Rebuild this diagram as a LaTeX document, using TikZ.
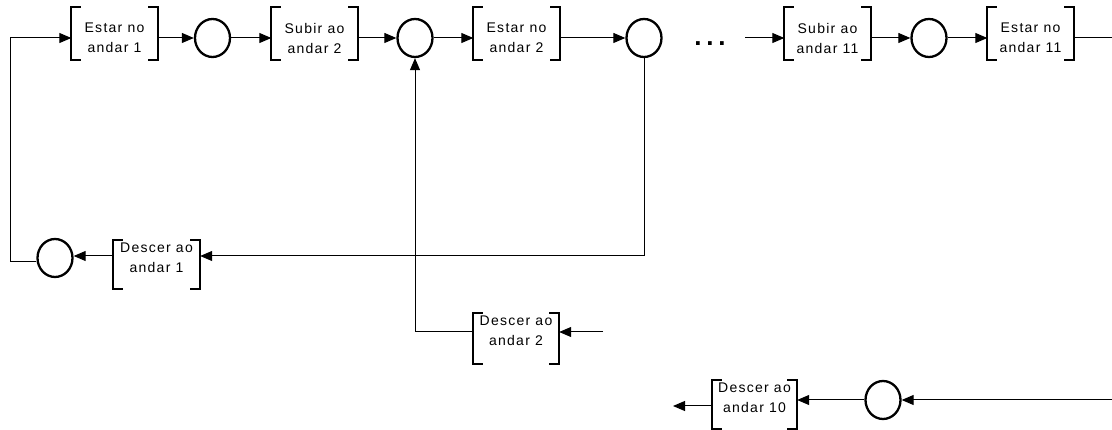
\documentclass[tikz,border=0pt]{standalone}
\usepackage{fontspec}
\setmainfont{Liberation Sans}[LetterSpace=9]
\usetikzlibrary{arrows.meta,shapes.geometric}
\begin{document}
\begin{tikzpicture}[x=1pt,y=-1pt,
  brk/.style={inner sep=0pt, minimum width=86pt, minimum height=52pt},
  lbl/.style={inner sep=0pt, align=center, font=\fontsize{14}{20}\selectfont},
  st/.style={ellipse, draw, line width=2.3pt, minimum width=35pt, minimum height=38pt, inner sep=0pt},
  bline/.style={line width=2.3pt, line cap=rect},
  arr/.style={line width=1pt, -{Triangle[length=12pt,width=10pt]}},
  ln/.style={line width=1pt}]
\useasboundingbox (0,0) rectangle (1112,430);
\newcommand\brackets[2]{%
  \draw[bline] ([xshift=#2]#1.north west) -- (#1.north west) -- (#1.south west) -- ([xshift=#2]#1.south west);
  \draw[bline] ([xshift=-#2]#1.north east) -- (#1.north east) -- (#1.south east) -- ([xshift=-#2]#1.south east);}
% top row
\node[brk] (b1) at (114.5,33.5) {};
\node[lbl] (t1) at (114.5,38) {Estar no\\andar 1};
\node[st] (c1) at (212.5,38) {};
\node[brk] (b2) at (314.5,33.5) {};
\node[lbl] (t2) at (314.5,38) {Subir ao\\andar 2};
\node[st] (c2) at (415,38) {};
\node[brk] (b3) at (516.5,33.5) {};
\node[lbl] (t3) at (516.5,38) {Estar no\\andar 2};
\node[st] (c3) at (644,38) {};
\node[inner sep=0pt, font=\fontsize{26}{26}\bfseries\addfontfeatures{LetterSpace=18}] (dots) at (710,44) {...};
\coordinate (s4) at (745,38);
\node[brk] (b4) at (827.5,33.5) {};
\node[lbl] (t4) at (827.5,38) {Subir ao\\andar 11};
\node[st] (c4) at (929,38) {};
\node[brk] (b5) at (1030.5,33.5) {};
\node[lbl] (t5) at (1030.5,38) {Estar no\\andar 11};
\coordinate (e5) at (1112,38);
% bottom
\node[brk, minimum width=87pt, minimum height=49pt] (d1) at (156.5,264.5) {};
\node[lbl] (u1) at (156.5,258) {Descer ao\\andar 1};
\node[st] (d1c) at (55,258) {};
\coordinate (r1) at (644,256);
\coordinate (lc) at (10,262);
\node[brk, minimum width=86pt, minimum height=51pt] (d2) at (516,338.5) {};
\node[lbl] (u2) at (516,331) {Descer ao\\andar 2};
\coordinate (d2in) at (603,332);
\node[brk, minimum width=85pt, minimum height=48pt] (d10) at (754.5,404.5) {};
\node[lbl] (u10) at (754.5,398) {Descer ao\\andar 10};
\node[st] (d10c) at (883,400) {};
\coordinate (r10) at (1112,400);
\coordinate (l10) at (673,406);
% brackets
\brackets{b1}{9pt}\brackets{b2}{9pt}\brackets{b3}{9pt}\brackets{b4}{9pt}\brackets{b5}{9pt}
\brackets{d1}{9pt}\brackets{d2}{9pt}\brackets{d10}{9pt}
% connectors top
\draw[ln] (d1c.west |- lc) -- (lc) -- (lc |- c1);
\draw[arr] (lc |- c1) -- (b1.west |- c1);
\draw[arr] (b1.east |- c1) -- (c1);
\draw[arr] (c1) -- (b2.west |- c1);
\draw[arr] (b2.east |- c2) -- (c2);
\draw[arr] (c2) -- (b3.west |- c2);
\draw[arr] (b3.east |- c3) -- (c3);
\draw[arr] (s4) -- (b4.west |- s4);
\draw[arr] (b4.east |- c4) -- (c4);
\draw[arr] (c4) -- (b5.west |- c4);
\draw[ln] (b5.east |- e5) -- (e5);
% connectors bottom
\draw[arr] (c3.south) -- (r1) -- (d1.east |- r1);
\draw[arr] (d1.west |- r1) -- (d1c.east |- r1);
\draw[arr] (d2in) -- (d2.east |- d2in);
\draw[arr] (d2.west |- d2in) -- (c2 |- d2in) -- (c2.south);
\draw[arr] (r10) -- (d10c);
\draw[arr] (d10c) -- (d10.east |- d10c);
\draw[arr] (d10.west |- l10) -- (l10);
\end{tikzpicture}
\end{document}
